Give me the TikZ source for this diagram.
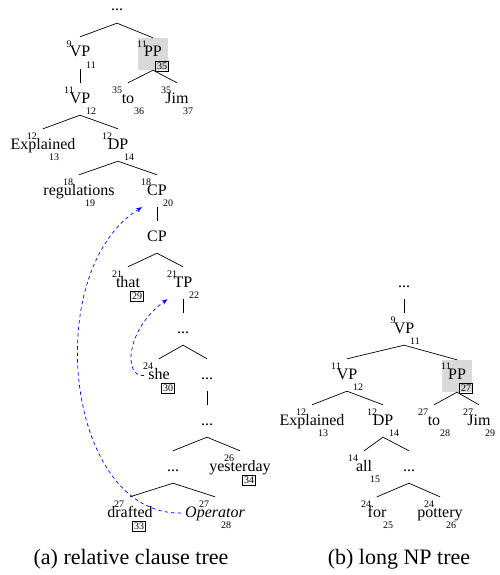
\documentclass[tikz,border=0pt]{standalone}
\usepackage{fontspec}
\setmainfont{Liberation Serif}
\usetikzlibrary{calc,arrows.meta}
\newcommand\tsup[2]{\node[num] (#1-sp) at ($(#1.base)+(-11,-13)$) {#2};}
\newcommand\tsub[2]{\node[num] (#1-sb) at ($(#1.base)+(11,8.5)$) {#2};}
\newcommand\tbox[2]{\node[bnum] (#1-bx) at ($(#1.base)+(9,9.5)$) {#2};}
\begin{document}
\begin{tikzpicture}[x=1pt,y=-1pt,
  w/.style={anchor=base,inner sep=0pt,text height=20pt,text depth=12pt,font=\fontsize{16}{19}\selectfont},
  pp/.style={w,fill=gray!30,minimum width=30pt,text height=19pt,text depth=13pt},
  num/.style={inner sep=0pt,font=\fontsize{10}{12}\selectfont},
  bnum/.style={num,draw,inner sep=1.5pt,line width=0.5pt},
  edge/.style={line width=0.7pt},
  mv/.style={blue,dash pattern=on 3.5pt off 3pt,line width=0.7pt,-{Stealth[length=6pt,width=4.5pt]}},
  captext/.style={anchor=base,inner sep=0pt,font=\fontsize{22}{26}\selectfont}]
\useasboundingbox (0,0) rectangle (499,575);
% ---------- tree (a)
\node[w] (a0) at (117,11) {...};
\node[w] (a1) at (80,57) {VP}; \tsup{a1}{9}\tsub{a1}{11}
\node[pp] (a2) at (153,57) {PP}; \tsup{a2}{11}\tbox{a2}{35}
\node[w] (a3) at (80,103) {VP}; \tsup{a3}{11}\tsub{a3}{12}
\node[w] (a4) at (128,103) {to}; \tsup{a4}{35}\tsub{a4}{36}
\node[w] (a5) at (177,103) {Jim}; \tsup{a5}{35}\tsub{a5}{37}
\node[w] (a6) at (43,149) {Explained}; \tsup{a6}{12}\tsub{a6}{13}
\node[w] (a7) at (118,149) {DP}; \tsup{a7}{12}\tsub{a7}{14}
\node[w] (a8) at (79,195) {regulations}; \tsup{a8}{18}\tsub{a8}{19}
\node[w] (a9) at (157,195) {CP}; \tsup{a9}{18}\tsub{a9}{20}
\node[w] (a10) at (157,241) {CP};
\node[w] (a11) at (128,287) {that}; \tsup{a11}{21}\tbox{a11}{29}
\node[w] (a12) at (183,287) {TP}; \tsup{a12}{21}\tsub{a12}{22}
\node[w] (a13) at (183,333) {...};
\node[w] (a14) at (159,379) {she}; \tsup{a14}{24}\tbox{a14}{30}
\node[w] (a15) at (207,379) {...};
\node[w] (a16) at (207,425) {...};
\node[w] (a17) at (173,471) {...};
\node[w] (a18) at (240,471) {yesterday}; \tsup{a18}{26}\tbox{a18}{34}
\node[w] (a19) at (130,517) {drafted}; \tsup{a19}{27}\tbox{a19}{33}
\node[w] (a20) at (215,517) {\itshape Operator}; \tsup{a20}{27}\tsub{a20}{28}
\foreach \p/\c in {a0/a1,a0/a2,a1/a3,a2/a4,a2/a5,a3/a6,a3/a7,a7/a8,a7/a9,a9/a10,
  a10/a11,a10/a12,a12/a13,a13/a14,a13/a15,a15/a16,a16/a17,a16/a18,a17/a19,a17/a20}
  \draw[edge] (\p.south) -- (\c.north);
\draw[mv,shorten <=4pt] (a20.west) .. controls +(-120,2) and +(-102,63) .. ([xshift=-5pt]a9.south west);
\draw[mv,shorten <=4pt] (a14.west) .. controls +(-25,3) and +(-42,30) .. ([xshift=-6pt]a12.south west);
\node[captext] (capa) at (131,564) {(a) relative clause tree};
% ---------- tree (b)
\node[w] (b0) at (404,287) {...};
\node[w] (b1) at (404,333) {VP}; \tsup{b1}{9}\tsub{b1}{11}
\node[w] (b2) at (347,379) {VP}; \tsup{b2}{11}\tsub{b2}{12}
\node[pp] (b3) at (457,379) {PP}; \tsup{b3}{11}\tbox{b3}{27}
\node[w] (b4) at (312,425) {Explained}; \tsup{b4}{12}\tsub{b4}{13}
\node[w] (b5) at (383,425) {DP}; \tsup{b5}{12}\tsub{b5}{14}
\node[w] (b6) at (434,425) {to}; \tsup{b6}{27}\tsub{b6}{28}
\node[w] (b7) at (479,425) {Jim}; \tsup{b7}{27}\tsub{b7}{29}
\node[w] (b8) at (364,471) {all}; \tsup{b8}{14}\tsub{b8}{15}
\node[w] (b9) at (409,471) {...};
\node[w] (b10) at (377,517) {for}; \tsup{b10}{24}\tsub{b10}{25}
\node[w] (b11) at (440,517) {pottery}; \tsup{b11}{24}\tsub{b11}{26}
\foreach \p/\c in {b0/b1,b1/b2,b1/b3,b2/b4,b2/b5,b3/b6,b3/b7,b5/b8,b5/b9,b9/b10,b9/b11}
  \draw[edge] (\p.south) -- (\c.north);
\node[captext] (capb) at (399,564) {(b) long NP tree};
\end{tikzpicture}
\end{document}
